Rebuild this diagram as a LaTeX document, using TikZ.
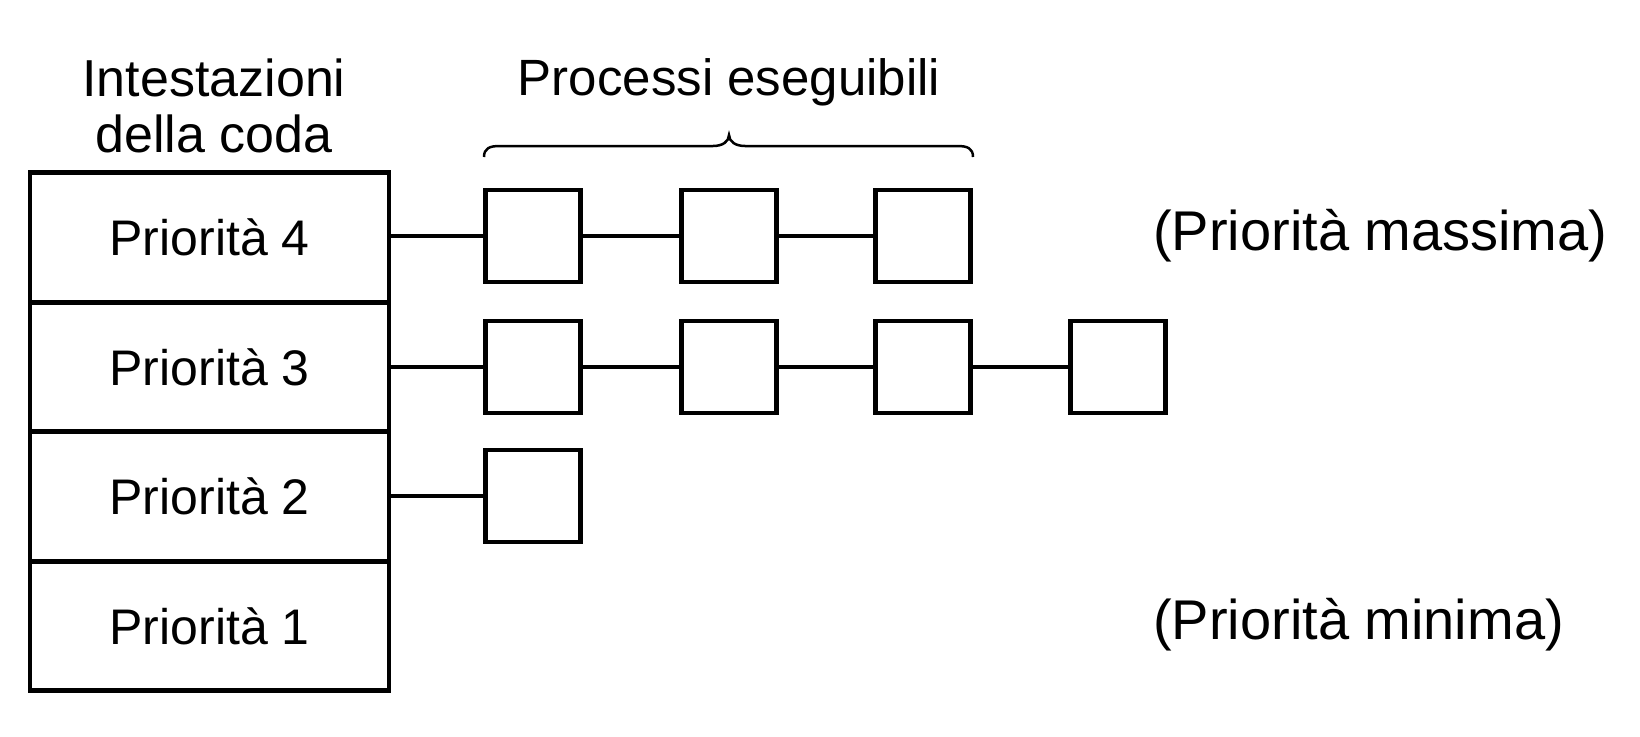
\documentclass[tikz,border=0pt]{standalone}
\usepackage{fontspec}
\setmainfont{Liberation Sans}
\begin{document}
\begin{tikzpicture}[x=1pt,y=-1pt,
  lw/.style={line width=4.8pt},
  head/.style={draw,lw,minimum width=359pt,minimum height=129.5pt,inner sep=0pt,font=\fontsize{50}{60}\selectfont},
  proc/.style={draw,lw,minimum width=95pt,minimum height=92pt,inner sep=0pt},
  link/.style={lw},
  lbl/.style={inner sep=0pt,font=\fontsize{50}{60}\selectfont}]
\useasboundingbox (0,0) rectangle (1640,736);
% headers
\node[head] (h4) at (209.5,237.5) {Priorità 4};
\node[head] (h3) at (209.5,367) {Priorità 3};
\node[head] (h2) at (209.5,496.5) {Priorità 2};
\node[head] (h1) at (209.5,626) {Priorità 1};
% titles
\node[lbl,align=center,font=\fontsize{52}{56}\selectfont] (t1) at (214,106) {Intestazioni\\della coda};
\node[lbl,font=\fontsize{51}{60}\selectfont] (t2) at (729,82) {Processi eseguibili};
% brace
\draw[line width=2.5pt] (484,157) .. controls (484,148) and (490,146) .. (500,146)
  -- (713,146) .. controls (722,146) and (729,142) .. (729,135)
  .. controls (729,142) and (736,146) .. (745,146)
  -- (957,146) .. controls (967,146) and (973,148) .. (973,157);
% processes
\node[proc] (p41) at (533,236) {};
\node[proc] (p42) at (729,236) {};
\node[proc] (p43) at (923,236) {};
\node[proc] (p31) at (533,367) {};
\node[proc] (p32) at (729,367) {};
\node[proc] (p33) at (923,367) {};
\node[proc] (p34) at (1118,367) {};
\node[proc] (p21) at (533,496) {};
% links
\draw[link] (h4.east |- p41) -- (p41.west);
\draw[link] (p41) -- (p42);
\draw[link] (p42) -- (p43);
\draw[link] (h3.east |- p31) -- (p31.west);
\draw[link] (p31) -- (p32);
\draw[link] (p32) -- (p33);
\draw[link] (p33) -- (p34);
\draw[link] (h2.east |- p21) -- (p21.west);
% side labels
\node[lbl,anchor=west,font=\fontsize{56}{60}\selectfont] (max) at (1153,236) {(Priorità massima)};
\node[lbl,anchor=west,font=\fontsize{56}{60}\selectfont] (min) at (1153,625) {(Priorità minima)};
\end{tikzpicture}
\end{document}
